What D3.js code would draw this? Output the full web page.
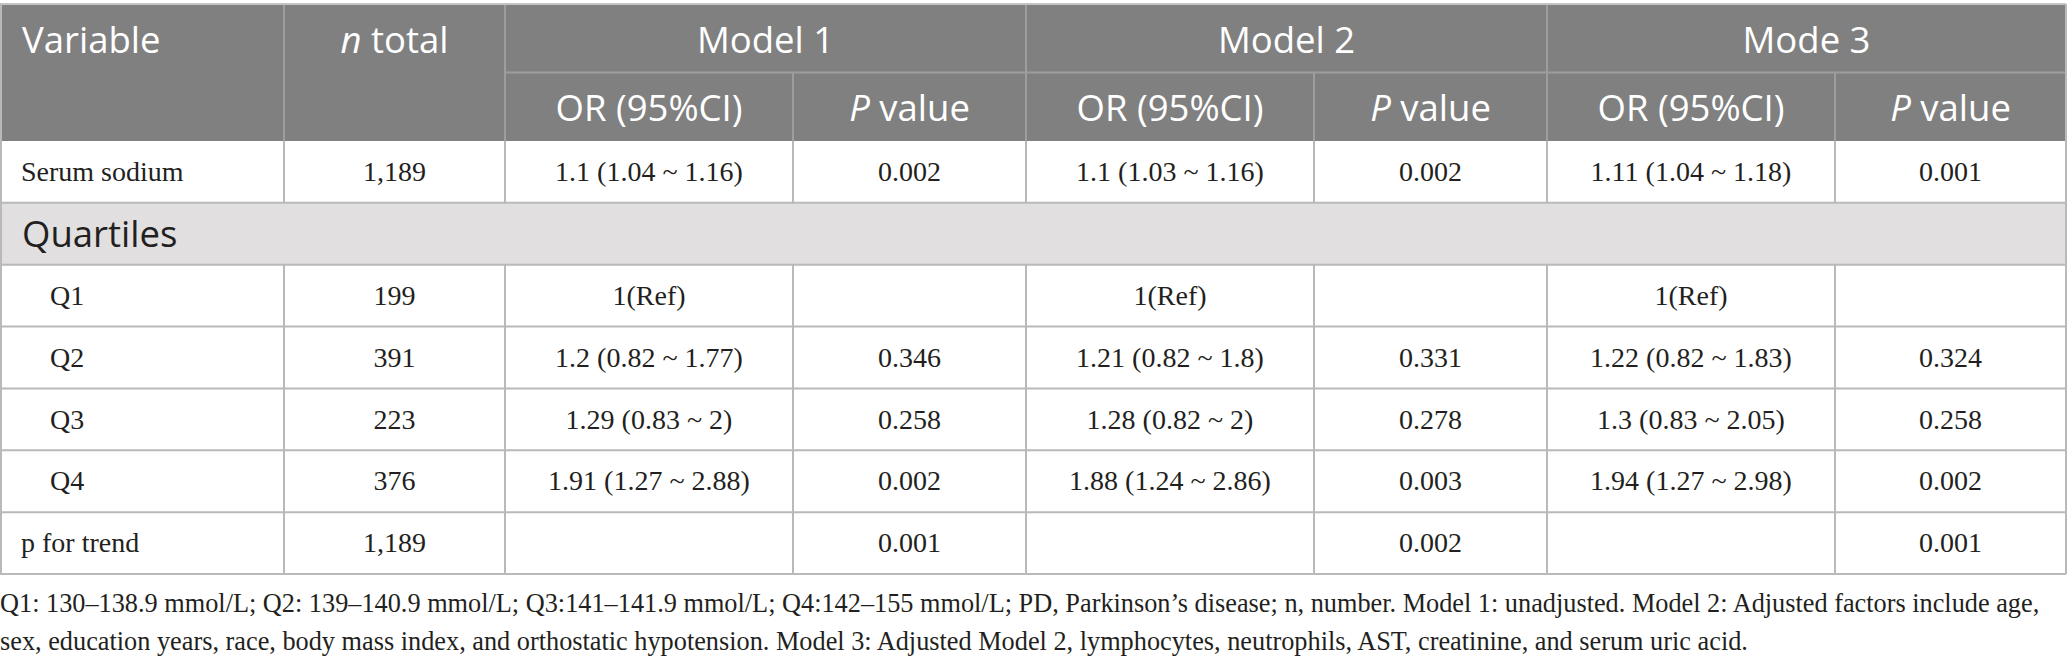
<!DOCTYPE html>
<html>
<head>
<meta charset="utf-8">
<script src="https://cdn.jsdelivr.net/npm/d3@7"></script>
<style>
  body { margin: 0; background: #fff; }
  svg { display: block; }
</style>
</head>
<body>
<svg width="2068" height="664"></svg>
<script>
// data of the table
const variables = ["Serum sodium", "Q1", "Q2", "Q3", "Q4", "p for trend"];
const nTotal    = ["1,189", "199", "391", "223", "376", "1,189"];
const model1OR  = ["1.1 (1.04 ~ 1.16)", "1(Ref)", "1.2 (0.82 ~ 1.77)", "1.29 (0.83 ~ 2)", "1.91 (1.27 ~ 2.88)", ""];
const model1P   = ["0.002", "", "0.346", "0.258", "0.002", "0.001"];
const model2OR  = ["1.1 (1.03 ~ 1.16)", "1(Ref)", "1.21 (0.82 ~ 1.8)", "1.28 (0.82 ~ 2)", "1.88 (1.24 ~ 2.86)", ""];
const model2P   = ["0.002", "", "0.331", "0.278", "0.003", "0.002"];
const model3OR  = ["1.11 (1.04 ~ 1.18)", "1(Ref)", "1.22 (0.82 ~ 1.83)", "1.3 (0.83 ~ 2.05)", "1.94 (1.27 ~ 2.98)", ""];
const model3P   = ["0.001", "", "0.324", "0.258", "0.002", "0.001"];
const modelNames = ["Model 1", "Model 2", "Mode 3"];
const sectionLabel = "Quartiles";
const footnotes = [
  "Q1: 130\u2013138.9 mmol/L; Q2: 139\u2013140.9 mmol/L; Q3:141\u2013141.9 mmol/L; Q4:142\u2013155 mmol/L; PD, Parkinson\u2019s disease; n, number. Model 1: unadjusted. Model 2: Adjusted factors include age,",
  "sex, education years, race, body mass index, and orthostatic hypotension. Model 3: Adjusted Model 2, lymphocytes, neutrophils, AST, creatinine, and serum uric acid."
];

const svg = d3.select("svg");
const W = 2066;

// колонки
const colKeys = ["var", "n", "or1", "p1", "or2", "p2", "or3", "p3"];
const colEdges = [0, 284, 505, 793, 1026, 1314, 1547, 1835, W];
const colX = d3.scaleOrdinal().domain(colKeys).range(colEdges.slice(0, 8));
const colW = k => colEdges[colKeys.indexOf(k) + 1] - colX(k);
const colMid = k => colX(k) + colW(k) / 2;

// строки тела таблицы (секция Quartiles вставлена после первой строки)
const bodyRows = [
  {label: variables[0], i: 0},
  {label: sectionLabel, section: true},
  ...variables.slice(1).map((v, j) => ({label: v, i: j + 1}))
];
const rowY = d3.scaleBand().domain(d3.range(bodyRows.length)).range([141, 574]);
const headY = d3.scaleBand().domain([0, 1]).range([4, 141]);

const headBg = "#808080", headLine = "#9d9d9d", line = "#b9b9b9";
const sans = "'Open Sans', 'Noto Sans', sans-serif";
const serif = "'Liberation Serif', 'DejaVu Serif', serif";
const serifSize = 28;

// шапка
svg.append("rect").attr("x", 0).attr("y", headY(0)).attr("width", W).attr("height", headY.bandwidth() * 2)
  .attr("fill", headBg);

const hText = (x, y, anchor) => svg.append("text")
  .attr("x", x).attr("y", y).attr("text-anchor", anchor || "middle")
  .attr("fill", "#fff").style("font-family", sans).style("font-size", "36.5px");

const h0 = headY(0) + headY.bandwidth() / 2 + 15;
const h1 = headY(1) + headY.bandwidth() / 2 + 14;
hText(22, h0, "start").text("Variable");
const nt = hText(colMid("n"), h0);
nt.append("tspan").style("font-style", "italic").text("n");
nt.append("tspan").text(" total");

modelNames.forEach((m, j) => {
  const a = colKeys[2 + j * 2], b = colKeys[3 + j * 2];
  hText((colX(a) + colX(b) + colW(b)) / 2, h0).text(m);
  hText(colMid(a), h1).text("OR (95%CI)");
  const pt = hText(colMid(b), h1);
  pt.append("tspan").style("font-style", "italic").text("P");
  pt.append("tspan").text(" value");
});

// линии шапки
svg.append("line").attr("x1", colX("or1")).attr("x2", W).attr("y1", headY(1)).attr("y2", headY(1))
  .attr("stroke", headLine).attr("stroke-width", 2);
colKeys.slice(1).forEach(k => {
  // P value колонки делятся только во второй строке шапки
  const yTop = k.startsWith("p") ? headY(1) : headY(0);
  svg.append("line").attr("x1", colX(k)).attr("x2", colX(k)).attr("y1", yTop).attr("y2", headY(1) + headY.bandwidth())
    .attr("stroke", headLine).attr("stroke-width", 2);
});
svg.append("line").attr("x1", 0).attr("x2", W).attr("y1", headY(0)).attr("y2", headY(0))
  .attr("stroke", "#c4c4c4").attr("stroke-width", 2);

// тело
const cols = {n: nTotal, or1: model1OR, p1: model1P, or2: model2OR, p2: model2P, or3: model3OR, p3: model3P};

bodyRows.forEach((r, ri) => {
  const y = rowY(ri), h = rowY.bandwidth(), cy = y + h / 2;
  if (r.section) {
    svg.append("rect").attr("x", 0).attr("y", y).attr("width", W).attr("height", h).attr("fill", "#e1dfe0");
    svg.append("text").attr("x", 22).attr("y", cy + 13).attr("fill", "#231f20")
      .style("font-family", sans).style("font-size", "36.5px").text(r.label);
    return;
  }
  const indent = /^Q\d/.test(r.label) ? 50 : 21;
  const cell = (x, t, anchor) => svg.append("text")
    .attr("x", x).attr("y", cy + serifSize * 0.33)
    .attr("text-anchor", anchor).attr("fill", "#231f20")
    .style("font-family", serif).style("font-size", serifSize + "px").text(t);
  cell(indent, r.label, "start");
  Object.keys(cols).forEach(k => {
    if (cols[k][r.i]) cell(colMid(k), cols[k][r.i], "middle");
  });
});

// линии тела
rowY.domain().forEach(ri => {
  const yb = rowY(ri) + rowY.bandwidth();
  svg.append("line").attr("x1", 0).attr("x2", W).attr("y1", yb).attr("y2", yb)
    .attr("stroke", line).attr("stroke-width", 2);
});
[1, W].forEach(x => svg.append("line").attr("x1", x).attr("x2", x).attr("y1", headY(0)).attr("y2", 574)
  .attr("stroke", line).attr("stroke-width", 2));
bodyRows.forEach((r, ri) => {
  if (r.section) return;
  colKeys.slice(1).forEach(k => svg.append("line").attr("x1", colX(k)).attr("x2", colX(k))
    .attr("y1", rowY(ri)).attr("y2", rowY(ri) + rowY.bandwidth()).attr("stroke", line).attr("stroke-width", 2));
});

// сноски: первая строка занимает почти всю ширину, сжимаем обе одинаково
const fn = svg.append("g").attr("class", "footnotes");
const fnTexts = footnotes.map((f, i) => fn.append("text").attr("x", 0).attr("y", 612 + i * 38)
  .attr("fill", "#231f20").style("font-family", serif).style("font-size", "27px").text(f));
const fullW = fnTexts[0].node().getComputedTextLength();
const k = Math.min(1, 2040 / fullW);
fn.attr("transform", `scale(${k},1)`);
</script>
</body>
</html>
